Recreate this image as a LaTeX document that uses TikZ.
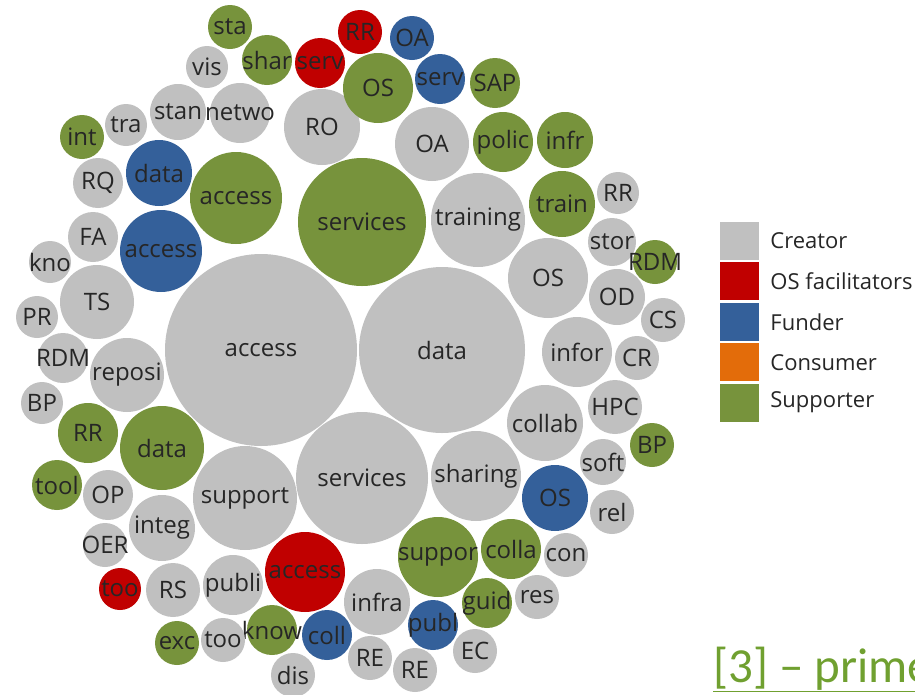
\documentclass[tikz,border=0pt]{standalone}
\usepackage{fontspec}
\setmainfont{Open Sans}
\newfontfamily\calibri{Carlito}
\usetikzlibrary{positioning}
\definecolor{crgray}{HTML}{C0C0C0}
\definecolor{fared}{HTML}{C00000}
\definecolor{fublue}{HTML}{34609A}
\definecolor{coorange}{HTML}{E36C0A}
\definecolor{sugreen}{HTML}{77933C}
\definecolor{refgreen}{HTML}{70A030}
\tikzset{
  bub/.style={circle,inner sep=0pt,draw=none},
  creator/.style={bub,fill=crgray},
  facil/.style={bub,fill=fared},
  funder/.style={bub,fill=fublue},
  consumer/.style={bub,fill=coorange},
  supporter/.style={bub,fill=sugreen},
  every label/.style={font=\fontsize{24}{26}\selectfont,text=black!85,inner sep=0pt},
  key/.style={minimum width=39pt,minimum height=38pt,inner sep=0pt},
  keytext/.style={font=\fontsize{22}{24}\selectfont,text=black!85,anchor=west,inner sep=0pt}
}
\begin{document}
\begin{tikzpicture}[x=1pt,y=-1pt]
\useasboundingbox (0,0) rectangle (915,694);
% big bubbles
\node[creator,minimum size=192,label=center:access] (access) at (261,350) {};
\node[creator,minimum size=166,label=center:data] (data) at (442,350) {};
\node[supporter,minimum size=128,label=center:services] (servicesS) at (362,222) {};
\node[creator,minimum size=132,label=center:services] (services) at (362,478) {};
\node[creator,minimum size=104,label=center:support] (support) at (245,498) {};
\node[supporter,minimum size=92,label=center:access] (accessS) at (236,198) {};
\node[creator,minimum size=94,label=center:training] (training) at (478,220) {};
\node[creator,minimum size=90,label=center:sharing] (sharing) at (476,476) {};
% left side
\node[creator,minimum size=74,label=center:reposi] (reposi) at (127,375) {};
\node[funder,minimum size=82,label=center:access] (accessF) at (161,251) {};
\node[funder,minimum size=66,label=center:data] (dataF) at (159,173) {};
\node[creator,minimum size=74,label=center:TS] (ts) at (97,302) {};
\node[creator,minimum size=50,label=center:FA] (fa) at (93,237) {};
\node[creator,minimum size=42,label=center:kno] (kno) at (50,262) {};
\node[creator,minimum size=42,label=center:PR] (pr) at (37,317) {};
\node[creator,minimum size=50,label=center:RDM] (rdm) at (63,358) {};
\node[creator,minimum size=42,label=center:BP] (bp) at (42,403) {};
\node[supporter,minimum size=60,label=center:RR] (rrS) at (88,433) {};
\node[supporter,minimum size=84,label=center:data] (dataS) at (162,448) {};
\node[creator,minimum size=50,label=center:RQ] (rq) at (98,183) {};
\node[supporter,minimum size=44,label=center:int] (intS) at (82,137) {};
\node[creator,minimum size=42,label=center:tra] (tra) at (126,125) {};
\node[creator,minimum size=56,label=center:stan] (stan) at (178,112) {};
\node[creator,minimum size=60,label=center:netwo] (netwo) at (240,113) {};
\node[creator,minimum size=42,label=center:vis] (vis) at (207,67) {};
% top
\node[supporter,minimum size=44,label=center:sta] (staS) at (230,27) {};
\node[supporter,minimum size=50,label=center:shar] (sharS) at (267,60) {};
\node[facil,minimum size=50,label=center:serv] (servF) at (320,63) {};
\node[creator,minimum size=76,label=center:RO] (ro) at (322,127) {};
\node[facil,minimum size=44,label=center:RR] (rrF) at (360,32) {};
\node[funder,minimum size=44,label=center:OA] (oaF) at (412,38) {};
\node[supporter,minimum size=70,label=center:OS] (osS) at (378,88) {};
\node[funder,minimum size=50,label=center:serv] (servB) at (440,79) {};
\node[supporter,minimum size=50,label=center:SAP] (sapS) at (495,83) {};
\node[creator,minimum size=74,label=center:OA] (oa) at (432,144) {};
\node[supporter,minimum size=60,label=center:polic] (policS) at (503,142) {};
\node[supporter,minimum size=56,label=center:infr] (infrS) at (565,140) {};
% right side
\node[supporter,minimum size=66,label=center:train] (trainS) at (562,204) {};
\node[creator,minimum size=42,label=center:RR] (rr) at (618,193) {};
\node[creator,minimum size=48,label=center:stor] (stor) at (612,242) {};
\node[supporter,minimum size=44,label=center:RDM] (rdmS) at (655,262) {};
\node[creator,minimum size=80,label=center:OS] (os) at (548,278) {};
\node[creator,minimum size=56,label=center:OD] (od) at (617,297) {};
\node[creator,minimum size=44,label=center:CS] (cs) at (663,320) {};
\node[creator,minimum size=70,label=center:infor] (infor) at (577,352) {};
\node[creator,minimum size=44,label=center:CR] (cr) at (637,358) {};
\node[creator,minimum size=54,label=center:HPC] (hpc) at (615,407) {};
\node[creator,minimum size=76,label=center:collab] (collab) at (545,423) {};
\node[supporter,minimum size=44,label=center:BP] (bpS) at (652,445) {};
\node[creator,minimum size=46,label=center:soft] (soft) at (603,462) {};
\node[funder,minimum size=66,label=center:OS] (osF) at (555,498) {};
\node[creator,minimum size=44,label=center:rel] (rel) at (612,512) {};
% bottom
\node[creator,minimum size=44,label=center:con] (con) at (566,555) {};
\node[supporter,minimum size=60,label=center:colla] (collaS) at (511,549) {};
\node[supporter,minimum size=80,label=center:suppor] (supporS) at (438,557) {};
\node[supporter,minimum size=50,label=center:guid] (guidS) at (487,603) {};
\node[creator,minimum size=44,label=center:res] (res) at (537,597) {};
\node[creator,minimum size=44,label=center:EC] (ec) at (475,651) {};
\node[funder,minimum size=50,label=center:publ] (publF) at (433,625) {};
\node[creator,minimum size=66,label=center:infra] (infra) at (377,602) {};
\node[creator,minimum size=44,label=center:RE] (re) at (370,658) {};
\node[creator,minimum size=44,label=center:RE] (reB) at (415,670) {};
\node[funder,minimum size=50,label=center:coll] (collF) at (327,635) {};
\node[facil,minimum size=80,label=center:access] (accessR) at (305,572) {};
\node[supporter,minimum size=50,label=center:know] (knowS) at (272,630) {};
\node[creator,minimum size=44,label=center:dis] (dis) at (293,675) {};
\node[creator,minimum size=44,label=center:too] (too) at (223,640) {};
\node[supporter,minimum size=44,label=center:exc] (excS) at (177,643) {};
\node[creator,minimum size=60,label=center:publi] (publi) at (233,585) {};
\node[creator,minimum size=54,label=center:RS] (rs) at (173,590) {};
\node[facil,minimum size=42,label=center:too] (tooF) at (120,589) {};
\node[creator,minimum size=44,label=center:OER] (oer) at (105,545) {};
\node[creator,minimum size=66,label=center:integ] (integ) at (162,528) {};
\node[creator,minimum size=50,label=center:OP] (op) at (108,495) {};
\node[supporter,minimum size=50,label=center:tool] (toolS) at (57,485) {};
% legend
\node[key,fill=crgray] (key1) at (739.5,241) {};
\node[key,fill=fared,below=2pt of key1] (key2) {};
\node[key,fill=fublue,below=2pt of key2] (key3) {};
\node[key,fill=coorange,below=2pt of key3] (key4) {};
\node[key,fill=sugreen,below=2pt of key4] (key5) {};
\node[keytext,right=11pt of key1] (txt1) {Creator};
\node[keytext,right=11pt of key2] (txt2) {OS facilitators};
\node[keytext,right=11pt of key3] (txt3) {Funder};
\node[keytext,right=11pt of key4] (txt4) {Consumer};
\node[keytext,right=11pt of key5] (txt5) {Supporter};
% source note
\node[anchor=base west,inner sep=0pt,text=refgreen,font=\calibri\fontsize{49}{52}\selectfont] (src) at (713,682) {\underline{[3] – prime}};
\end{tikzpicture}
\end{document}
